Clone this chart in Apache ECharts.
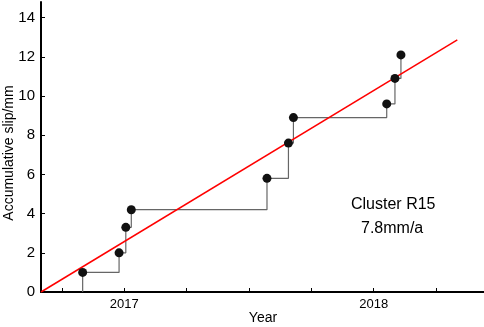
<!DOCTYPE html>
<html>
<head>
<meta charset="utf-8">
<script src="https://cdn.jsdelivr.net/npm/echarts@6/dist/echarts.min.js"></script>
<style>
  html, body { margin: 0; padding: 0; background: #fff; }
  #ec { width: 484px; height: 327px; }
</style>
</head>
<body>
<div id="ec"></div>
<script>
// observation times (decimal year) and accumulated slip (mm)
var obsYear = [2016.833, 2016.979, 2017.006, 2017.028, 2017.572, 2017.658, 2017.678, 2018.052, 2018.085, 2018.109];
var slip = [1.0, 2.0, 3.3, 4.2, 5.8, 7.6, 8.9, 9.6, 10.9, 12.1];
// linear fit, 7.8 mm/a
var fitYear = [2016.666, 2018.335];
var fitSlip = [0, 12.87];
var yearTicks = [2016.75, 2017, 2017.25, 2017.5, 2017.75, 2018, 2018.25];
var yearLabels = [2017, 2018];
var slipTicks = [0, 2, 4, 6, 8, 10, 12, 14];

var points = obsYear.map(function (t, i) { return [t, slip[i]]; });
var steps = [[obsYear[0], 0]].concat(points);
var fit = fitYear.map(function (t, i) { return [t, fitSlip[i]]; });

var font = "Liberation Sans, Arial, sans-serif";
var chart = echarts.init(document.getElementById("ec"));
chart.setOption({
  animation: false,
  backgroundColor: "#fff",
  textStyle: { fontFamily: font },
  grid: { left: 41, right: 0, top: 2, bottom: 35, containLabel: false, outerBoundsMode: "none" },
  xAxis: {
    type: "value",
    min: 2016.666,
    max: 2018.442,
    axisLine: { lineStyle: { color: "#000", width: 2 } },
    axisTick: { inside: true, length: 4, customValues: yearTicks, lineStyle: { color: "#000" } },
    axisLabel: {
      customValues: yearLabels,
      fontSize: 13,
      color: "#000",
      margin: 6,
      formatter: function (v) { return Math.round(v); }
    },
    splitLine: { show: false }
  },
  yAxis: {
    type: "value",
    min: 0,
    max: 14.8,
    axisLine: { show: true, lineStyle: { color: "#000", width: 2 } },
    axisTick: { show: true, inside: true, length: 4, customValues: slipTicks, lineStyle: { color: "#000" } },
    axisLabel: { customValues: slipTicks, fontSize: 15, color: "#000", margin: 6 },
    splitLine: { show: false }
  },
  graphic: [
    { type: "text", x: 9, y: 153, rotation: Math.PI / 2,
      style: { text: "Accumulative slip/mm", fontSize: 14, fill: "#000", fontFamily: font, align: "center", verticalAlign: "middle" } },
    { type: "text", x: 263, y: 318,
      style: { text: "Year", fontSize: 14, fill: "#000", fontFamily: font, align: "center", verticalAlign: "middle" } },
    { type: "text", left: 351, top: 197, style: { text: "Cluster R15", fontSize: 16, fill: "#000", fontFamily: font } },
    { type: "text", left: 361, top: 221, style: { text: "7.8mm/a", fontSize: 16, fill: "#000", fontFamily: font } }
  ],
  series: [
    {
      type: "line",
      data: steps,
      step: "end",
      symbol: "none",
      lineStyle: { color: "#666", width: 1.2 },
      z: 2
    },
    {
      type: "line",
      data: fit,
      symbol: "none",
      lineStyle: { color: "#ff0000", width: 1.5 },
      z: 3
    },
    {
      type: "scatter",
      data: points,
      symbolSize: 9,
      itemStyle: { color: "#111", opacity: 1 },
      z: 4
    }
  ]
});
</script>
</body>
</html>
